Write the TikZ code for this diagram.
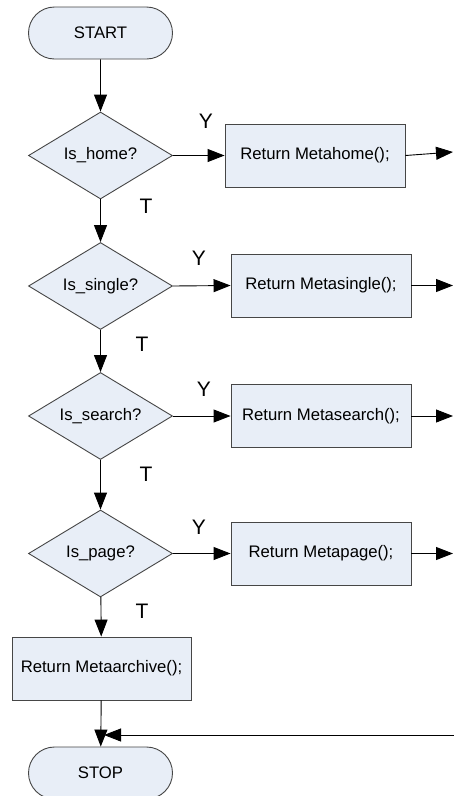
\documentclass[tikz,border=0pt]{standalone}
\usepackage{fontspec}
\setmainfont{Liberation Sans}
\usetikzlibrary{shapes.geometric,shapes.misc,arrows.meta}
\definecolor{boxfill}{RGB}{232,238,247}
\definecolor{boxline}{RGB}{70,70,70}
\tikzset{
  shapebase/.style={draw=boxline, fill=boxfill, line width=0.9pt, inner sep=0pt, font=\fontsize{16.7}{19}\selectfont},
  termbox/.style={shapebase, rounded rectangle, minimum width=144pt, minimum height=52pt},
  decbox/.style={shapebase, diamond, minimum width=144pt, minimum height=87pt},
  procbox/.style={shapebase, rectangle, minimum width=180pt, minimum height=63pt},
  flow/.style={draw=black, line width=0.9pt, -{Triangle[length=17pt,width=13pt]}},
  lbl/.style={font=\fontsize{21}{24}\selectfont, inner sep=0pt}
}
\begin{document}
\begin{tikzpicture}[x=1pt,y=-1pt]
\clip (0,0) rectangle (454,796);
\fill[white] (0,0) rectangle (454,796);

\node[termbox] (start) at (100.5,33) {START};
\node[decbox] (d1) at (100.5,155.5) {\makebox[0pt]{Is\_home?}};
\node[decbox] (d2) at (100.5,286) {\makebox[0pt]{Is\_single?}};
\node[decbox] (d3) at (100.5,416) {\makebox[0pt]{Is\_search?}};
\node[decbox] (d4) at (100.5,553.5) {\makebox[0pt]{Is\_page?}};

\node[procbox] (b1) at (315,155.5) {Return Metahome();};
\node[procbox] (b2) at (321,285.5) {Return Metasingle();};
\node[procbox] (b3) at (321,416) {Return Metasearch();};
\node[procbox] (b4) at (321,553.5) {Return Metapage();};
\node[procbox, minimum width=179pt] (b5) at (101.5,668.5) {Return Metaarchive();};

\node[termbox] (stop) at (100.5,773) {STOP};

\coordinate (e1) at (453,152);
\coordinate (e2) at (453,285.5);
\coordinate (e3) at (453,416);
\coordinate (e4) at (453,553.5);
\coordinate (r) at (454,735);
\coordinate (m) at (100.5,735);

\node[lbl] (y1) at (206,121) {Y};
\node[lbl] (y2) at (199,258) {Y};
\node[lbl] (y3) at (204,389) {Y};
\node[lbl] (y4) at (199,527) {Y};
\node[lbl] (t1) at (146,206) {T};
\node[lbl] (t2) at (142,344) {T};
\node[lbl] (t3) at (146,474) {T};
\node[lbl] (t4) at (142,611) {T};

\draw[flow] (start) -- (d1);
\draw[flow] (d1) -- (d2);
\draw[flow] (d2) -- (d3);
\draw[flow] (d3) -- (d4);
\draw[flow] (d4) -- (b5);
\draw[flow] (b5) -- (stop);

\draw[flow] (d1.east) -- (b1.west);
\draw[flow] (d2.east) -- (b2.west);
\draw[flow] (d3.east) -- (b3.west);
\draw[flow] (d4.east) -- (b4.west);

\draw[flow] (b1.east) -- (e1);
\draw[flow] (b2.east) -- (e2);
\draw[flow] (b3.east) -- (e3);
\draw[flow] (b4.east) -- (e4);

\draw[flow, shorten >=3.5pt] (r) -- (m);
\end{tikzpicture}
\end{document}
